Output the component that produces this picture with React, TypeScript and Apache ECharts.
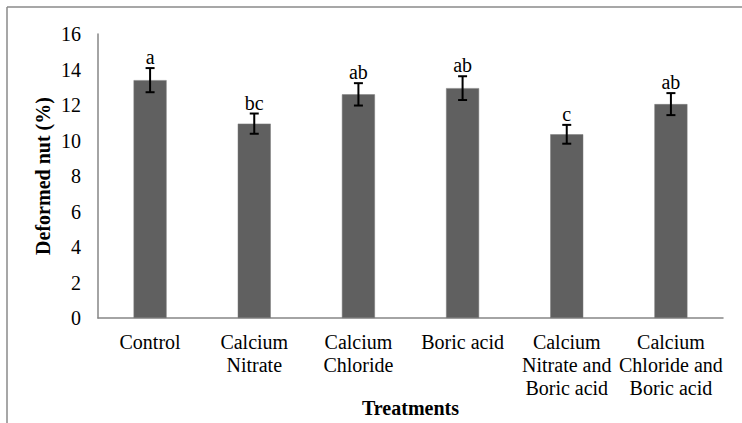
import React, { useEffect, useRef } from "react";
import * as echarts from "echarts";

const categories = [
  "Control",
  "Calcium\nNitrate",
  "Calcium\nChloride",
  "Boric acid",
  "Calcium\nNitrate and\nBoric acid",
  "Calcium\nChloride and\nBoric acid",
];
const values = [13.4, 10.95, 12.6, 12.95, 10.35, 12.05];
const errors = [0.68, 0.57, 0.63, 0.67, 0.53, 0.62];
const letters = ["a", "bc", "ab", "ab", "c", "ab"];

const FONT = '"Liberation Serif", "Times New Roman", serif';

export default function App() {
  const ref = useRef<HTMLDivElement>(null);
  useEffect(() => {
    if (!ref.current) return;
    const chart = echarts.init(ref.current, null, { renderer: "svg" });
    const errData = values.map((v, i) => [i, v, errors[i]]);
    chart.setOption({
      animation: false,
      backgroundColor: "#ffffff",
      textStyle: { fontFamily: FONT },
      graphic: [
        { type: "line", shape: { x1: 7, y1: 7, x2: 742, y2: 7 }, style: { stroke: "#8a8a8a", lineWidth: 1.5 } },
        { type: "line", shape: { x1: 7, y1: 7, x2: 7, y2: 423 }, style: { stroke: "#8a8a8a", lineWidth: 1.5 } },
      ],
      grid: { left: 98, top: 34, right: 19, bottom: 105, containLabel: false, outerBoundsMode: "none" },
      xAxis: {
        type: "category",
        data: categories,
        name: "Treatments",
        nameLocation: "middle",
        nameGap: 80,
        nameMoveOverlap: false,
        nameTextStyle: { fontFamily: FONT, fontSize: 20, fontWeight: "bold", color: "#000" },
        axisLine: { lineStyle: { color: "#868686", width: 1.5 } },
        axisTick: { show: false },
        axisLabel: { interval: 0, fontFamily: FONT, fontSize: 20, color: "#000", lineHeight: 23.3, margin: 12 },
      },
      yAxis: {
        type: "value",
        min: 0,
        max: 16,
        interval: 2,
        name: "Deformed nut (%)",
        nameLocation: "middle",
        nameGap: 45,
        nameMoveOverlap: false,
        nameTextStyle: { fontFamily: FONT, fontSize: 20, fontWeight: "bold", color: "#000" },
        axisLine: { show: true, lineStyle: { color: "#868686", width: 1.5 } },
        axisTick: { show: false },
        splitLine: { show: false },
        axisLabel: { fontFamily: FONT, fontSize: 20, color: "#000", margin: 17 },
      },
      series: [
        {
          type: "bar",
          data: values,
          barWidth: 33,
          itemStyle: { color: "#606060", borderColor: "#7a7a7a", borderWidth: 0.5 },
        },
        {
          type: "custom",
          data: errData,
          z: 10,
          renderItem: (params: any, api: any) => {
            const i = api.value(0);
            const v = api.value(1);
            const e = api.value(2);
            const letter = letters[params.dataIndex];
            const top = api.coord([i, v + e]);
            const bot = api.coord([i, v - e]);
            const hw = 4.5;
            const st = { stroke: "#000", lineWidth: 2 };
            return {
              type: "group",
              children: [
                { type: "line", shape: { x1: top[0], y1: top[1], x2: bot[0], y2: bot[1] }, style: st },
                { type: "line", shape: { x1: top[0] - hw, y1: top[1], x2: top[0] + hw, y2: top[1] }, style: st },
                { type: "line", shape: { x1: bot[0] - hw, y1: bot[1], x2: bot[0] + hw, y2: bot[1] }, style: st },
                {
                  type: "text",
                  x: top[0],
                  y: top[1] - 1,
                  style: {
                    text: letter,
                    fill: "#000",
                    font: `20px ${FONT}`,
                    textAlign: "center",
                    textVerticalAlign: "bottom",
                  },
                },
              ],
            };
          },
        },
      ],
    });
    return () => chart.dispose();
  }, []);
  return (
    <div
      ref={ref}
      style={{ position: "fixed", left: 0, top: 0, width: 742, height: 423 }}
    />
  );
}
